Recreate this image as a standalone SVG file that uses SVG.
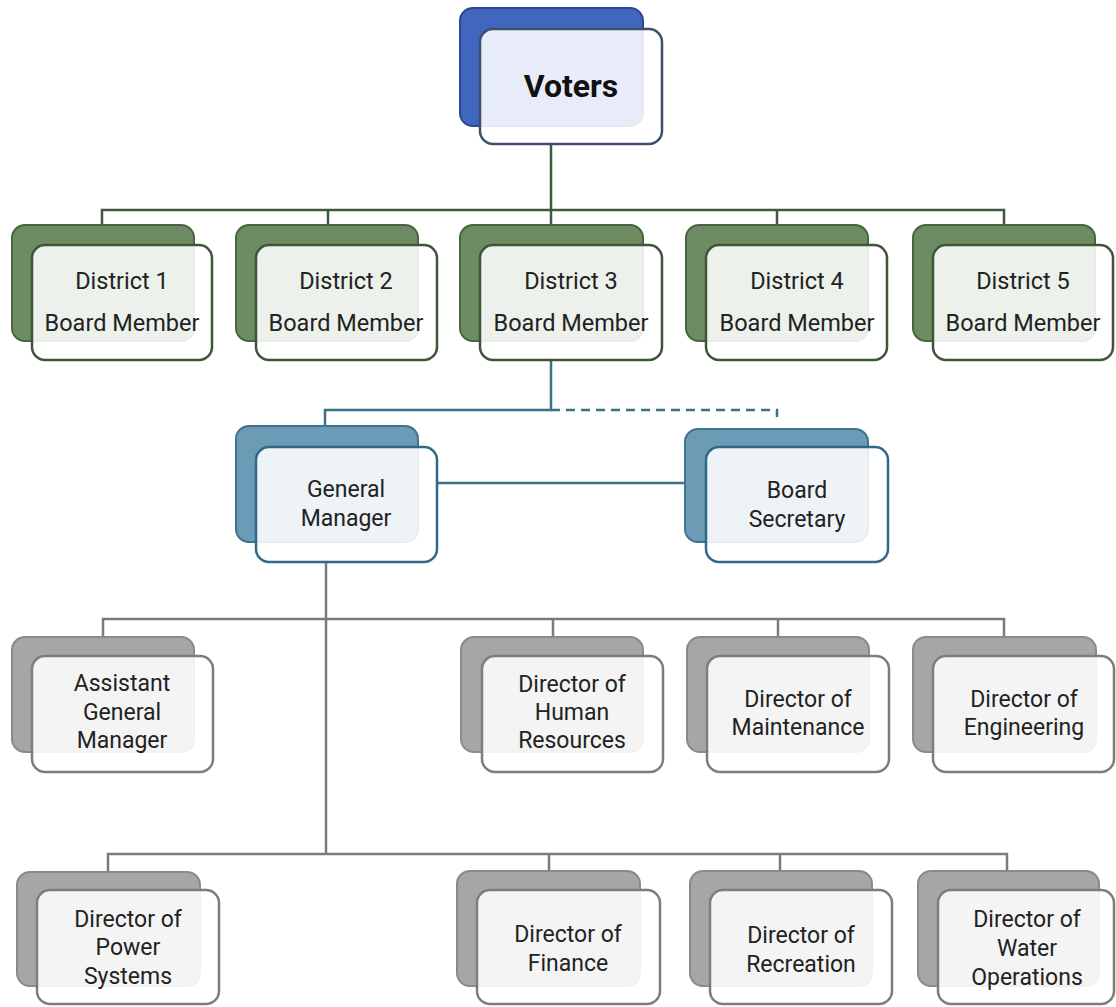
<svg xmlns="http://www.w3.org/2000/svg" width="1116" height="1007" viewBox="0 0 1116 1007">
<style>
.bg{fill:#ffffff}
.c{fill:none;stroke-width:2.5;stroke-linecap:square}
.cg{stroke:#3e5a3c}
.ct{stroke:#3b7189}
.cy{stroke:#7b7b7b}
.dash{stroke-dasharray:9 6;stroke-linecap:butt}
.back{stroke-width:2}
.front{fill:#ffffff;fill-opacity:0.88;stroke-width:2.5}
.bb{fill:#4066c0;stroke:#2c4a8a}
.fb{stroke:#3d4f6e}
.bgr{fill:#6d8c64;stroke:#4a6442}
.fgr{stroke:#3f5538}
.bt{fill:#6b9bb5;stroke:#3e7391}
.ft{stroke:#2e6a85}
.bgy{fill:#a6a6a6;stroke:#8a8a8a}
.fgy{stroke:#7d7d7d}
text{font-family:Roboto,"Noto Sans","Liberation Sans",sans-serif;font-size:23px;fill:#222222;text-anchor:middle}
.big{font-size:32px;font-weight:bold;fill:#111111}
.d{font-size:23.5px}
</style>
<rect class="bg" x="0" y="0" width="1116" height="1007"/>
<g id="connectors">
<path class="c cg" d="M551,144 V226 M102,226 V210 H1004 V226 M328,210 V226 M777,210 V226"/>
<path class="c ct" d="M551,359 V410 H325 V426"/>
<path class="c ct dash" d="M551,410 H777 V417"/>
<path class="c ct" d="M437,483 H684"/>
<path class="c cy" d="M326,562 V854 M103,637 V619 H1004 V637 M553,619 V637 M778,619 V637 M108,871 V854 H1007 V871 M549,854 V871 M780,854 V871"/>
</g>
<g id="voters">
<rect class="back bb" x="460" y="8" width="183" height="118" rx="13"/>
<rect class="front fb" x="480" y="29" width="182" height="115" rx="13"/>
<text class="big" x="571" y="97">Voters</text>
</g>
<g id="district1">
<rect class="back bgr" x="12" y="225" width="182" height="116" rx="13"/>
<rect class="front fgr" x="32" y="245" width="180" height="115" rx="13"/>
<text class="d" x="122" y="289">District 1</text>
<text class="d" x="122" y="331">Board Member</text>
</g>
<g id="district2">
<rect class="back bgr" x="236" y="225" width="182" height="116" rx="13"/>
<rect class="front fgr" x="256" y="245" width="181" height="115" rx="13"/>
<text class="d" x="346" y="289">District 2</text>
<text class="d" x="346" y="331">Board Member</text>
</g>
<g id="district3">
<rect class="back bgr" x="460" y="225" width="183" height="116" rx="13"/>
<rect class="front fgr" x="480" y="245" width="182" height="115" rx="13"/>
<text class="d" x="571" y="289">District 3</text>
<text class="d" x="571" y="331">Board Member</text>
</g>
<g id="district4">
<rect class="back bgr" x="686" y="225" width="182" height="116" rx="13"/>
<rect class="front fgr" x="706" y="245" width="181" height="115" rx="13"/>
<text class="d" x="797" y="289">District 4</text>
<text class="d" x="797" y="331">Board Member</text>
</g>
<g id="district5">
<rect class="back bgr" x="913" y="225" width="182" height="116" rx="13"/>
<rect class="front fgr" x="933" y="245" width="180" height="115" rx="13"/>
<text class="d" x="1023" y="289">District 5</text>
<text class="d" x="1023" y="331">Board Member</text>
</g>
<g id="general-manager">
<rect class="back bt" x="236" y="426" width="182" height="116" rx="13"/>
<rect class="front ft" x="256" y="447" width="181" height="115" rx="13"/>
<text x="346" y="497">General</text>
<text x="346" y="526">Manager</text>
</g>
<g id="board-secretary">
<rect class="back bt" x="685" y="429" width="183" height="113" rx="13"/>
<rect class="front ft" x="706" y="447" width="182" height="115" rx="13"/>
<text x="797" y="498">Board</text>
<text x="797" y="527">Secretary</text>
</g>
<g id="assistant-gm">
<rect class="back bgy" x="12" y="637" width="182" height="115" rx="13"/>
<rect class="front fgy" x="32" y="656" width="181" height="116" rx="13"/>
<text x="122" y="691">Assistant</text>
<text x="122" y="720">General</text>
<text x="122" y="748">Manager</text>
</g>
<g id="dir-hr">
<rect class="back bgy" x="461" y="637" width="182" height="115" rx="13"/>
<rect class="front fgy" x="482" y="656" width="181" height="116" rx="13"/>
<text x="572" y="692">Director of</text>
<text x="572" y="720">Human</text>
<text x="572" y="748">Resources</text>
</g>
<g id="dir-maintenance">
<rect class="back bgy" x="687" y="637" width="182" height="115" rx="13"/>
<rect class="front fgy" x="707" y="656" width="182" height="116" rx="13"/>
<text x="798" y="707">Director of</text>
<text x="798" y="735">Maintenance</text>
</g>
<g id="dir-engineering">
<rect class="back bgy" x="913" y="637" width="183" height="115" rx="13"/>
<rect class="front fgy" x="933" y="656" width="181" height="116" rx="13"/>
<text x="1024" y="707">Director of</text>
<text x="1024" y="735">Engineering</text>
</g>
<g id="dir-power">
<rect class="back bgy" x="17" y="872" width="183" height="114" rx="13"/>
<rect class="front fgy" x="37" y="890" width="182" height="114" rx="13"/>
<text x="128" y="927">Director of</text>
<text x="128" y="955">Power</text>
<text x="128" y="984">Systems</text>
</g>
<g id="dir-finance">
<rect class="back bgy" x="457" y="871" width="183" height="115" rx="13"/>
<rect class="front fgy" x="477" y="890" width="183" height="114" rx="13"/>
<text x="568" y="942">Director of</text>
<text x="568" y="971">Finance</text>
</g>
<g id="dir-recreation">
<rect class="back bgy" x="690" y="871" width="182" height="115" rx="13"/>
<rect class="front fgy" x="710" y="890" width="182" height="114" rx="13"/>
<text x="801" y="943">Director of</text>
<text x="801" y="972">Recreation</text>
</g>
<g id="dir-water">
<rect class="back bgy" x="918" y="871" width="181" height="115" rx="13"/>
<rect class="front fgy" x="938" y="890" width="176" height="114" rx="13"/>
<text x="1027" y="927">Director of</text>
<text x="1027" y="956">Water</text>
<text x="1027" y="985">Operations</text>
</g>
</svg>
